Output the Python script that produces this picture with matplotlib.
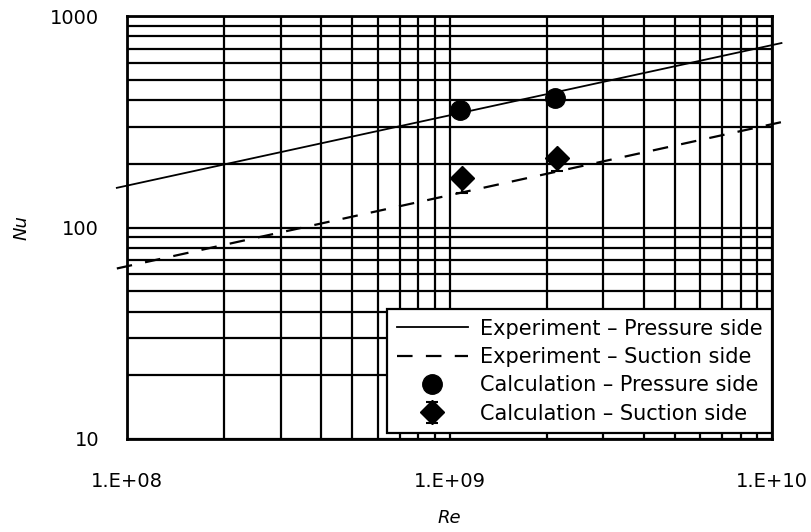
import numpy as np
import matplotlib
matplotlib.use("Agg")
import matplotlib.pyplot as plt
from matplotlib.ticker import FixedLocator, FixedFormatter, NullFormatter, LogLocator

# experiment correlations (end points)
exp_re = [0.93e8, 1.07e10]
exp_pressure = [154, 745]
exp_suction = [64, 315]

# calculation points
calc_re_p = [1.08e9, 2.12e9]
calc_nu_p = [360, 410]
calc_re_s = [1.09e9, 2.15e9]
calc_nu_s = [172, 214]
calc_err_s = [26, 30]

xticks = [1e8, 1e9, 1e10]
xlabels = ["1.E+08", "1.E+09", "1.E+10"]
yticks = [10, 100, 1000]
ylabels = ["10", "100", "1000"]

plt.rcParams['font.family'] = ['DejaVu Sans']

fig = plt.figure(figsize=(8.11, 5.32), dpi=100)
ax = fig.add_axes([127/811, 1 - 439/532, 645/811, 423/532])
ax.set_xscale('log')
ax.set_yscale('log')
ax.set_xlim(1e8, 1e10)
ax.set_ylim(10, 1000)

ax.plot(exp_re, exp_pressure, color='black', lw=1.3, clip_on=False, zorder=4,
        label='Experiment – Pressure side')
ax.plot(exp_re, exp_suction, color='black', lw=1.6, dashes=(7, 6), clip_on=False, zorder=4,
        label='Experiment – Suction side')
ax.plot(calc_re_p, calc_nu_p, 'o', color='black', ms=14, zorder=5,
        label='Calculation – Pressure side')
ax.errorbar(calc_re_s, calc_nu_s, yerr=[calc_err_s, [0, 0]], fmt='D', color='black', ms=12,
            ecolor='black', elinewidth=1.5, capsize=4, capthick=1.5, zorder=5,
            label='Calculation – Suction side')

ax.xaxis.set_major_locator(FixedLocator(xticks))
ax.xaxis.set_major_formatter(FixedFormatter(xlabels))
ax.yaxis.set_major_locator(FixedLocator(yticks))
ax.yaxis.set_major_formatter(FixedFormatter(ylabels))
ax.xaxis.set_minor_locator(LogLocator(base=10, subs=np.arange(2, 10)))
ax.yaxis.set_minor_locator(LogLocator(base=10, subs=np.arange(2, 10)))
ax.xaxis.set_minor_formatter(NullFormatter())
ax.yaxis.set_minor_formatter(NullFormatter())
ax.tick_params(which='both', length=0)
ax.tick_params(axis='x', pad=24, labelsize=14)
ax.tick_params(axis='y', pad=20, labelsize=14)
ax.grid(which='both', color='black', lw=1.6)
ax.set_axisbelow(True)
for s in ax.spines.values():
    s.set_linewidth(2)
    s.set_color('black')

ax.set_xlabel('Re', style='italic', fontsize=13, labelpad=13)
ax.set_ylabel('Nu', style='italic', fontsize=13, labelpad=14)

handles, labels = ax.get_legend_handles_labels()
leg = ax.legend(handles, labels, loc='lower right', bbox_to_anchor=(1.0, 6/423),
                fontsize=15, frameon=True, fancybox=False,
                framealpha=1, edgecolor='black', borderaxespad=0, handlelength=3.4,
                labelspacing=0.4, borderpad=0.45, handletextpad=0.6)
leg.get_frame().set_linewidth(1.6)
leg.set_zorder(10)

fig.savefig('out.png', dpi=100)
